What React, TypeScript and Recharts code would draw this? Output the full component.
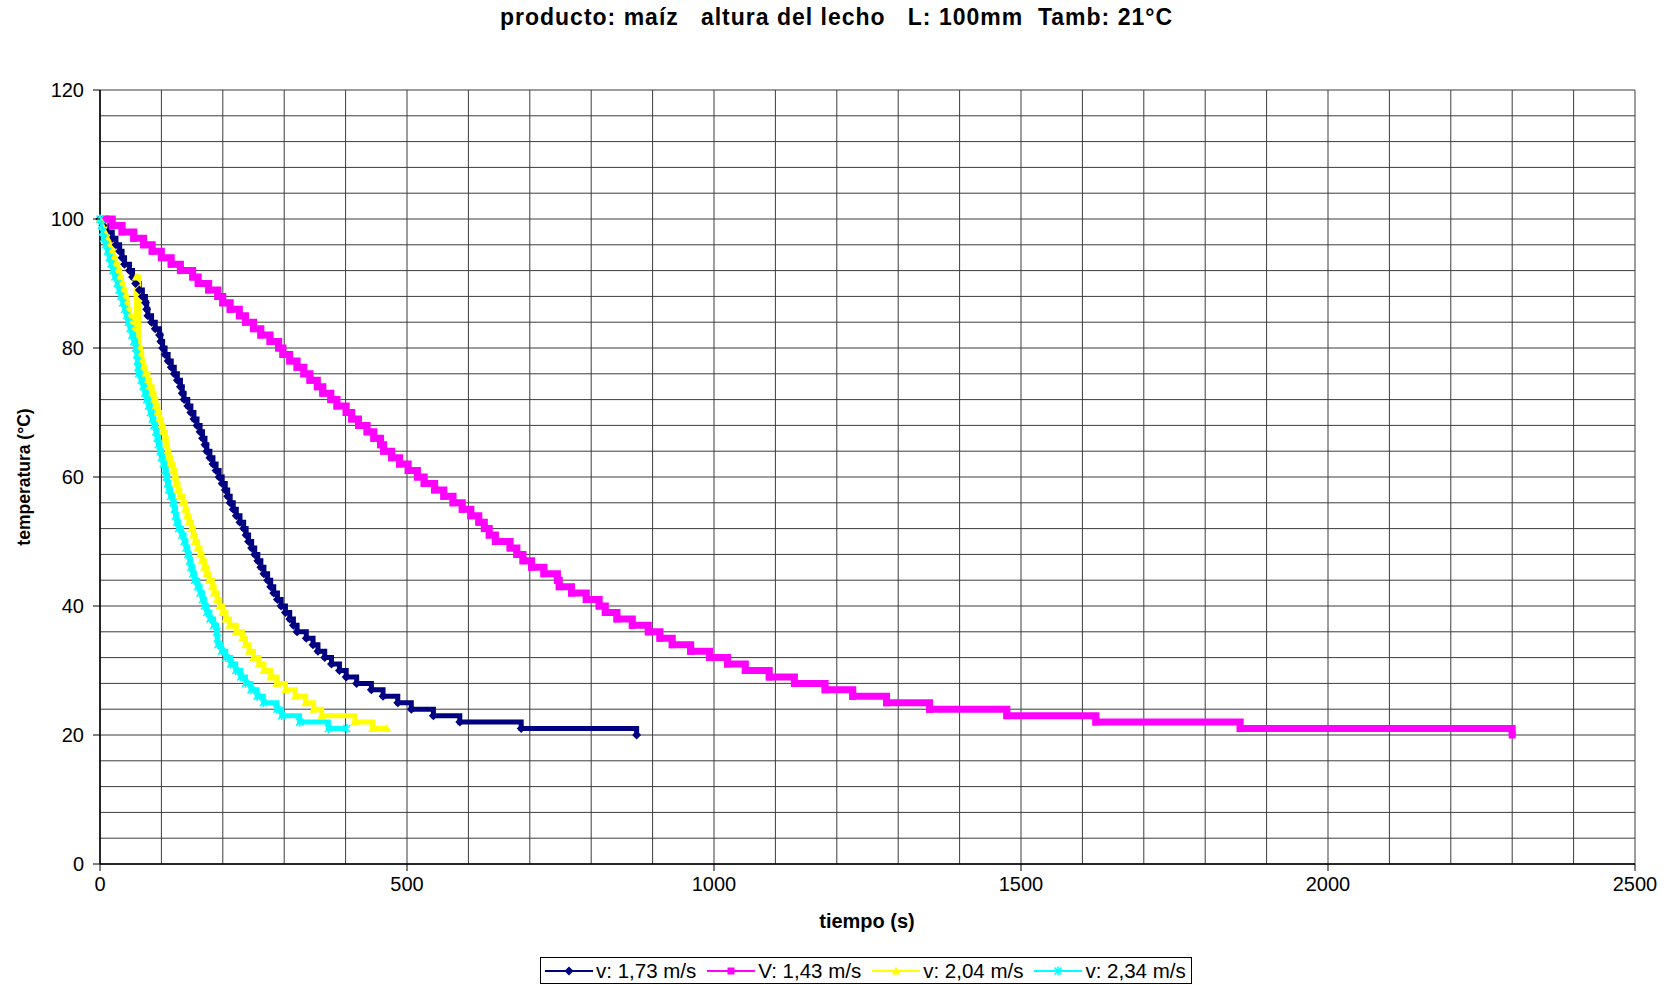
import { CartesianGrid, Line, LineChart, XAxis, YAxis } from "recharts";

const FONT = '"Liberation Sans", Arial, Helvetica, sans-serif';
const GRID_STROKE = "#3c3c3c";

// axis ticks: grid every 100 s / 4 °C, labels every 500 s / 20 °C
const timeTicks = [
  0, 100, 200, 300, 400, 500, 600, 700, 800, 900, 1000, 1100, 1200, 1300, 1400, 1500, 1600, 1700,
  1800, 1900, 2000, 2100, 2200, 2300, 2400, 2500,
];
const timeLabels = [0, 500, 1000, 1500, 2000, 2500];
const tempTicks = [
  0, 4, 8, 12, 16, 20, 24, 28, 32, 36, 40, 44, 48, 52, 56, 60, 64, 68, 72, 76, 80, 84, 88, 92, 96,
  100, 104, 108, 112, 116, 120,
];
const tempLabels = [0, 20, 40, 60, 80, 100, 120];

// v: 1,73 m/s — time (s) at which each reading starts
const blueTime = [
  0, 5, 12, 20, 26, 32, 36, 40, 48, 53, 58, 64, 69, 74, 76, 78, 84, 90, 97, 99, 102, 106, 111, 116,
  121, 126, 131, 134, 137, 143, 148, 153, 158, 163, 167, 171, 174, 179, 184, 189, 194, 199, 204, 208,
  212, 217, 222, 228, 234, 238, 242, 247, 252, 257, 262, 267, 273, 278, 283, 289, 295, 302, 309, 315,
  321, 336, 347, 355, 366, 377, 390, 401, 418, 442, 461, 485, 507, 543, 586, 686, 874,
];
const blueTemp = [
  100, 99, 98, 97, 96, 95, 94, 93, 92, 91, 90, 89, 88, 87, 86, 85, 84, 83, 82, 81, 80, 79, 78, 77,
  76, 75, 74, 73, 72, 71, 70, 69, 68, 67, 66, 65, 64, 63, 62, 61, 60, 59, 58, 57, 56, 55, 54, 53, 52,
  51, 50, 49, 48, 47, 46, 45, 44, 43, 42, 41, 40, 39, 38, 37, 36, 35, 34, 33, 32, 31, 30, 29, 28, 27,
  26, 25, 24, 23, 22, 21, 20,
];

// V: 1,43 m/s
const magentaTime = [
  9, 20, 36, 55, 71, 85, 100, 116, 131, 151, 160, 177, 192, 200, 212, 227, 237, 250, 262, 277, 291,
  298, 309, 321, 332, 342, 354, 363, 376, 386, 401, 410, 421, 435, 446, 457, 462, 475, 488, 502, 517,
  528, 545, 560, 575, 590, 604, 617, 626, 634, 644, 668, 679, 689, 703, 723, 745, 748, 768, 792, 813,
  823, 842, 867, 893, 912, 932, 962, 993, 1022, 1051, 1090, 1131, 1181, 1226, 1281, 1351, 1477, 1622,
  1857, 2300,
];
const magentaTemp = [
  100, 99, 98, 97, 96, 95, 94, 93, 92, 91, 90, 89, 88, 87, 86, 85, 84, 83, 82, 81, 80, 79, 78, 77,
  76, 75, 74, 73, 72, 71, 70, 69, 68, 67, 66, 65, 64, 63, 62, 61, 60, 59, 58, 57, 56, 55, 54, 53, 52,
  51, 50, 49, 48, 47, 46, 45, 44, 43, 42, 41, 40, 39, 38, 37, 36, 35, 34, 33, 32, 31, 30, 29, 28, 27,
  26, 25, 24, 23, 22, 21, 20,
];

// v: 2,04 m/s (note the spike back up to 91 near 60 s)
const yellowTime = [
  0, 4, 8, 12, 15, 19, 22, 25, 29, 32, 35, 38, 41, 43, 45, 48, 50, 53, 59, 63, 66, 68, 71, 74, 78,
  81, 85, 88, 91, 94, 97, 100, 103, 106, 108, 110, 112, 115, 119, 122, 124, 127, 130, 135, 139, 142,
  145, 149, 152, 155, 159, 163, 166, 170, 174, 178, 183, 186, 191, 195, 200, 205, 211, 222, 232, 237,
  243, 250, 259, 267, 278, 288, 302, 318, 335, 348, 361, 415, 444, 467,
];
const yellowTemp = [
  100, 99, 98, 97, 96, 95, 94, 93, 92, 91, 90, 89, 88, 87, 86, 85, 84, 83, 91, 80, 79, 78, 77, 76,
  75, 74, 73, 72, 71, 70, 69, 68, 67, 66, 65, 64, 63, 62, 61, 60, 59, 58, 57, 56, 55, 54, 53, 52, 51,
  50, 49, 48, 47, 46, 45, 44, 43, 42, 41, 40, 39, 38, 37, 36, 35, 34, 33, 32, 31, 30, 29, 28, 27, 26,
  25, 24, 23, 22, 21, 21,
];

// v: 2,34 m/s
const cyanTime = [
  0, 2, 4, 6, 9, 12, 15, 18, 21, 24, 28, 31, 34, 37, 40, 43, 46, 49, 52, 55, 58, 60, 61, 62, 63, 67,
  70, 73, 76, 79, 82, 85, 88, 91, 93, 95, 98, 100, 103, 106, 108, 110, 112, 115, 119, 121, 123, 125,
  128, 133, 137, 140, 143, 146, 148, 151, 154, 159, 163, 167, 170, 174, 179, 185, 190, 191, 192, 198,
  205, 213, 221, 229, 237, 246, 256, 266, 288, 296, 325, 372, 402,
];
const cyanTemp = [
  100, 99, 98, 97, 96, 95, 94, 93, 92, 91, 90, 89, 88, 87, 86, 85, 84, 83, 82, 81, 80, 79, 78, 77,
  76, 75, 74, 73, 72, 71, 70, 69, 68, 67, 66, 65, 64, 63, 62, 61, 60, 59, 58, 57, 56, 55, 54, 53, 52,
  51, 50, 49, 48, 47, 46, 45, 44, 43, 42, 41, 40, 39, 38, 37, 36, 35, 34, 33, 32, 31, 30, 29, 28, 27,
  26, 25, 24, 23, 22, 21, 21,
];

type Point = { t: number; temp: number };
type MarkerKind = "diamond" | "square" | "triangle" | "star";

const toPoints = (times: number[], temps: number[]): Point[] =>
  times.map((t, i) => ({ t, temp: temps[i] }));

const SERIES: { name: string; color: string; marker: MarkerKind; width: number; data: Point[] }[] = [
  { name: "v: 1,73 m/s", color: "#000080", marker: "diamond", width: 5, data: toPoints(blueTime, blueTemp) },
  { name: "V: 1,43 m/s", color: "#FF00FF", marker: "square", width: 7, data: toPoints(magentaTime, magentaTemp) },
  { name: "v: 2,04 m/s", color: "#FFFF00", marker: "triangle", width: 5, data: toPoints(yellowTime, yellowTemp) },
  { name: "v: 2,34 m/s", color: "#00FFFF", marker: "star", width: 5, data: toPoints(cyanTime, cyanTemp) },
];

function Marker({ kind, x, y, color }: { kind: MarkerKind; x: number; y: number; color: string }) {
  if (kind === "diamond") {
    return <polygon points={`${x},${y - 4.5} ${x + 4.5},${y} ${x},${y + 4.5} ${x - 4.5},${y}`} fill={color} />;
  }
  if (kind === "square") {
    return <rect x={x - 3.5} y={y - 3.5} width={7} height={7} fill={color} />;
  }
  if (kind === "triangle") {
    return <polygon points={`${x},${y - 4.5} ${x + 4.5},${y + 3.5} ${x - 4.5},${y + 3.5}`} fill={color} />;
  }
  return (
    <g stroke={color} strokeWidth={1.6}>
      <line x1={x - 3.5} y1={y - 3.5} x2={x + 3.5} y2={y + 3.5} />
      <line x1={x - 3.5} y1={y + 3.5} x2={x + 3.5} y2={y - 3.5} />
      <line x1={x} y1={y - 4.5} x2={x} y2={y + 4.5} />
    </g>
  );
}

function TimeTick({ x, y, payload }: { x: number; y: number; payload: { value: number } }) {
  if (!timeLabels.includes(payload.value)) return <g />;
  return (
    <g>
      <line x1={x} x2={x} y1={y} y2={y + 7} stroke="#000" />
      <text x={x} y={y + 27} textAnchor="middle" fontSize={20} fontFamily={FONT} fill="#000">
        {payload.value}
      </text>
    </g>
  );
}

function TempTick({ x, y, payload }: { x: number; y: number; payload: { value: number } }) {
  if (!tempLabels.includes(payload.value)) return <g />;
  return (
    <g>
      <line x1={x - 7} x2={x} y1={y} y2={y} stroke="#000" />
      <text x={x - 16} y={y + 7} textAnchor="end" fontSize={20} fontFamily={FONT} fill="#000">
        {payload.value}
      </text>
    </g>
  );
}

function ChartLegend() {
  return (
    <div
      style={{
        position: "absolute",
        left: 540,
        top: 957,
        width: 652,
        height: 27,
        border: "1px solid #000",
        display: "flex",
        alignItems: "center",
        fontFamily: FONT,
        fontSize: 20.5,
        background: "#fff",
        boxSizing: "border-box",
        paddingLeft: 4,
      }}
    >
      {SERIES.map((s, i) => (
        <div
          key={s.name}
          style={{ display: "flex", alignItems: "center", marginRight: i < SERIES.length - 1 ? 11 : 0 }}
        >
          <svg width={48} height={14} style={{ marginRight: 3 }}>
            <line x1={0} x2={48} y1={7} y2={7} stroke={s.color} strokeWidth={2} />
            <Marker kind={s.marker} x={24} y={7} color={s.color} />
          </svg>
          <span style={{ whiteSpace: "pre" }}>{s.name}</span>
        </div>
      ))}
    </div>
  );
}

export default function App() {
  return (
    <div
      style={{
        position: "absolute",
        left: 0,
        top: 0,
        width: 1673,
        height: 985,
        background: "#fff",
        fontFamily: FONT,
        color: "#000",
      }}
    >
      <div
        style={{
          position: "absolute",
          left: 0,
          top: 4,
          width: 1673,
          textAlign: "center",
          fontWeight: "bold",
          fontSize: 23,
          letterSpacing: 1,
          whiteSpace: "pre",
        }}
      >
        {"producto: maíz   altura del lecho   L: 100mm  Tamb: 21°C"}
      </div>

      <LineChart width={1673} height={985} margin={{ top: 90, right: 38, bottom: 81, left: 40 }}>
        <CartesianGrid stroke={GRID_STROKE} strokeWidth={1} />
        <XAxis
          dataKey="t"
          type="number"
          domain={[0, 2500]}
          ticks={timeTicks}
          interval={0}
          height={40}
          tickSize={0}
          tickMargin={0}
          tickLine={false}
          tick={TimeTick}
          axisLine={{ stroke: "#000", strokeWidth: 1.5 }}
        />
        <YAxis
          dataKey="temp"
          type="number"
          domain={[0, 120]}
          ticks={tempTicks}
          interval={0}
          width={60}
          tickSize={0}
          tickMargin={0}
          tickLine={false}
          tick={TempTick}
          axisLine={{ stroke: "#000", strokeWidth: 1.5 }}
        />
        {SERIES.map((s) => (
          <Line
            key={s.name}
            data={s.data}
            dataKey="temp"
            name={s.name}
            type="stepAfter"
            stroke={s.color}
            strokeWidth={s.width}
            dot={(p: { cx: number; cy: number; index: number }) => (
              <Marker key={p.index} kind={s.marker} x={p.cx} y={p.cy} color={s.color} />
            )}
            activeDot={false}
            isAnimationActive={false}
          />
        ))}
      </LineChart>

      <div
        style={{
          position: "absolute",
          left: 24,
          top: 477,
          transform: "translate(-50%, -50%) rotate(-90deg)",
          fontWeight: "bold",
          fontSize: 17.5,
          whiteSpace: "pre",
        }}
      >
        temperatura (°C)
      </div>
      <div
        style={{
          position: "absolute",
          left: 867,
          top: 921,
          transform: "translate(-50%, -50%)",
          fontWeight: "bold",
          fontSize: 20,
          whiteSpace: "pre",
        }}
      >
        tiempo (s)
      </div>

      <ChartLegend />
    </div>
  );
}
